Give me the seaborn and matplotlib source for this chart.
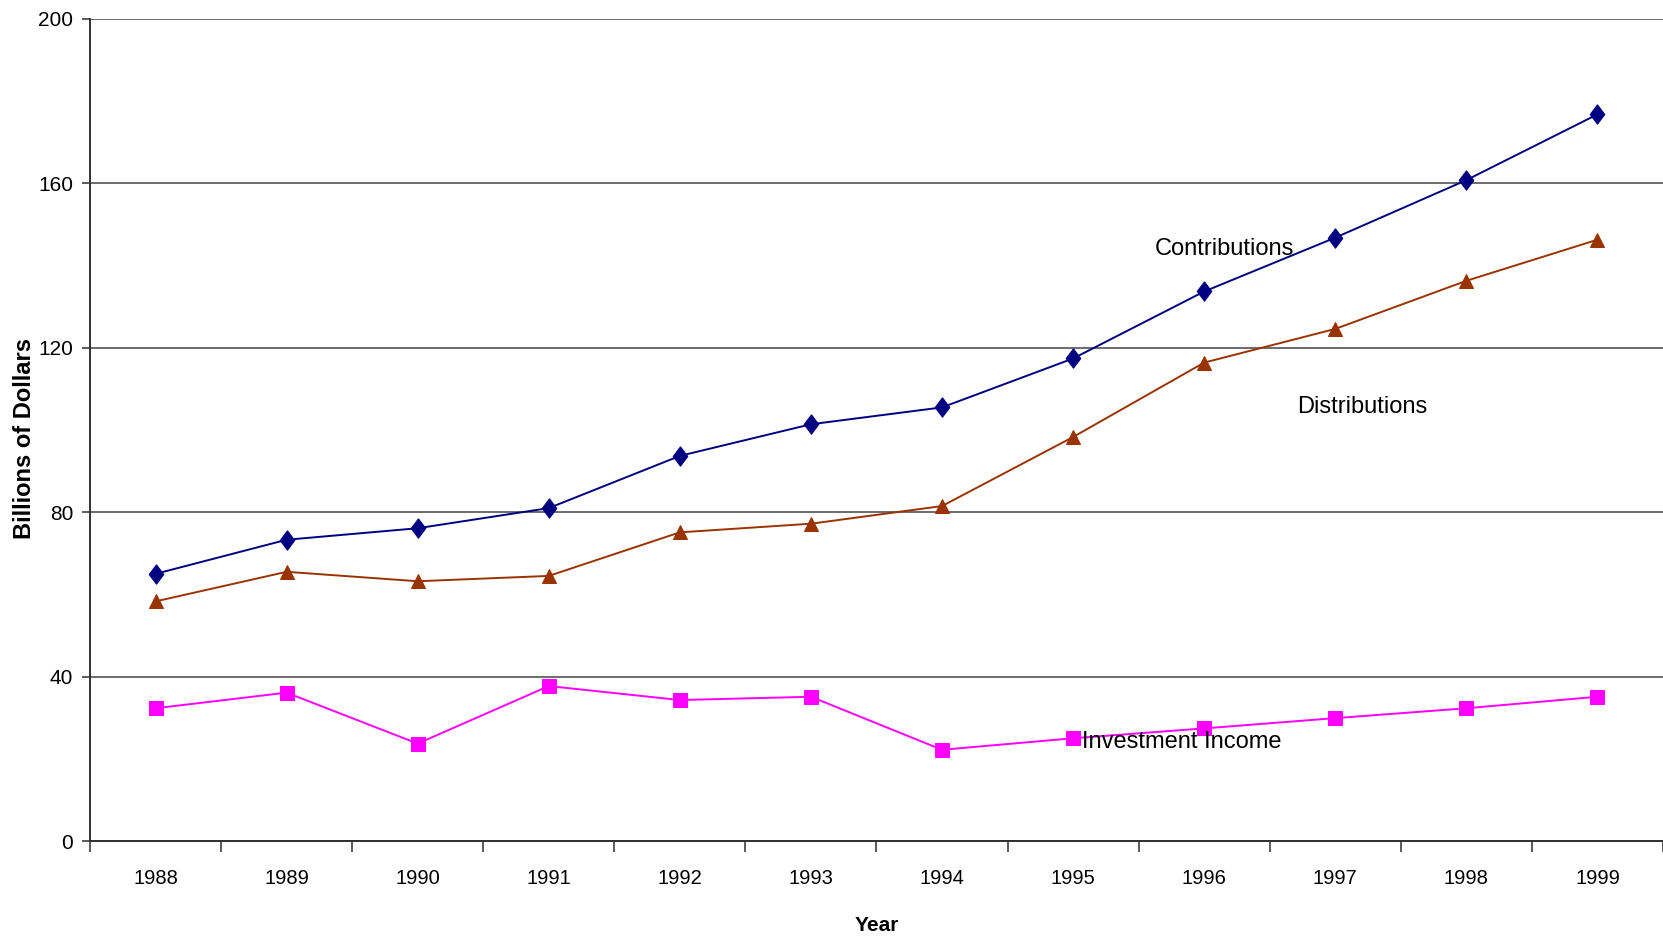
import numpy as np
import pandas as pd
import seaborn as sns
import matplotlib.pyplot as plt
from matplotlib.ticker import FixedLocator

years = [1988, 1989, 1990, 1991, 1992, 1993, 1994, 1995, 1996, 1997, 1998, 1999]
contributions = [65.0, 73.3, 76.1, 81.0, 93.7, 101.4, 105.5, 117.4, 133.7, 146.8, 160.8, 176.8]
distributions = [58.3, 65.5, 63.2, 64.5, 75.1, 77.2, 81.5, 98.3, 116.4, 124.6, 136.3, 146.3]
investment_income = [32.3, 36.1, 23.7, 37.7, 34.3, 35.1, 22.2, 25.0, 27.4, 29.9, 32.3, 35.1]
series_names = ["Contributions", "Distributions", "Investment Income"]
y_ticks = [0, 40, 80, 120, 160, 200]

df = pd.DataFrame({
    "Year": years * 3,
    "Value": contributions + distributions + investment_income,
    "Series": [s for s in series_names for _ in years],
})

sns.set_theme(style="white")
plt.rcParams["font.family"] = ["Liberation Sans", "DejaVu Sans"]
plt.rcParams["text.color"] = "black"
plt.rcParams["xtick.color"] = "black"
plt.rcParams["ytick.color"] = "black"
plt.rcParams["axes.labelcolor"] = "black"

fig = plt.figure(figsize=(16.63, 9.40), dpi=100)
ax = fig.add_axes([0.0541, 0.1053, 0.9459, 0.8745])

# Excel-style diamond: a bit narrower than tall
diamond = [(0, 1), (0.75, 0), (0, -1), (-0.75, 0), (0, 1)]
palette = {"Contributions": "#000080", "Distributions": "#993300", "Investment Income": "#FF00FF"}
markers = {"Contributions": diamond, "Distributions": "^", "Investment Income": "s"}
sizes = {"Contributions": 14, "Distributions": 10, "Investment Income": 9.5}

for name in series_names:
    sub = df[df["Series"] == name]
    sns.lineplot(data=sub, x="Year", y="Value", color=palette[name], marker=markers[name],
                 markersize=sizes[name], markeredgecolor=palette[name], linewidth=1.4,
                 ax=ax, zorder=3)

ax.set_xlim(years[0] - 0.5, years[-1] + 0.5)
ax.set_ylim(0, 200)
ax.set_yticks(y_ticks)
ax.yaxis.grid(True, color="#606060", linewidth=1.3)
ax.set_axisbelow(True)

ax.set_xticks(years)
ax.set_xticklabels([str(y) for y in years])
ax.xaxis.set_minor_locator(FixedLocator(np.arange(years[0] - 0.5, years[-1] + 1, 1.0)))
ax.tick_params(axis="x", which="major", length=0, pad=20, labelsize=14.5)
ax.tick_params(axis="x", which="minor", length=8, width=1.2, color="#404040", bottom=True)
ax.tick_params(axis="y", which="major", length=6, width=1.2, color="#404040", left=True,
               pad=6, labelsize=15)

for s in ["top", "right"]:
    ax.spines[s].set_visible(False)
for s in ["left", "bottom"]:
    ax.spines[s].set_color("#303030")
    ax.spines[s].set_linewidth(1.4)

ax.set_xlabel("Year", fontsize=15, fontweight="bold", labelpad=20)
ax.set_ylabel("Billions of Dollars", fontsize=17, fontweight="bold")
ax.yaxis.set_label_coords(-0.034, 0.49)

ax.text(1995.62, 144, "Contributions", fontsize=17, va="center", ha="left", zorder=4)
ax.text(1996.71, 105.6, "Distributions", fontsize=17, va="center", ha="left", zorder=4)
ax.text(1995.07, 24, "Investment Income", fontsize=17, va="center", ha="left", zorder=4)

fig.savefig("out.png", dpi=100)
